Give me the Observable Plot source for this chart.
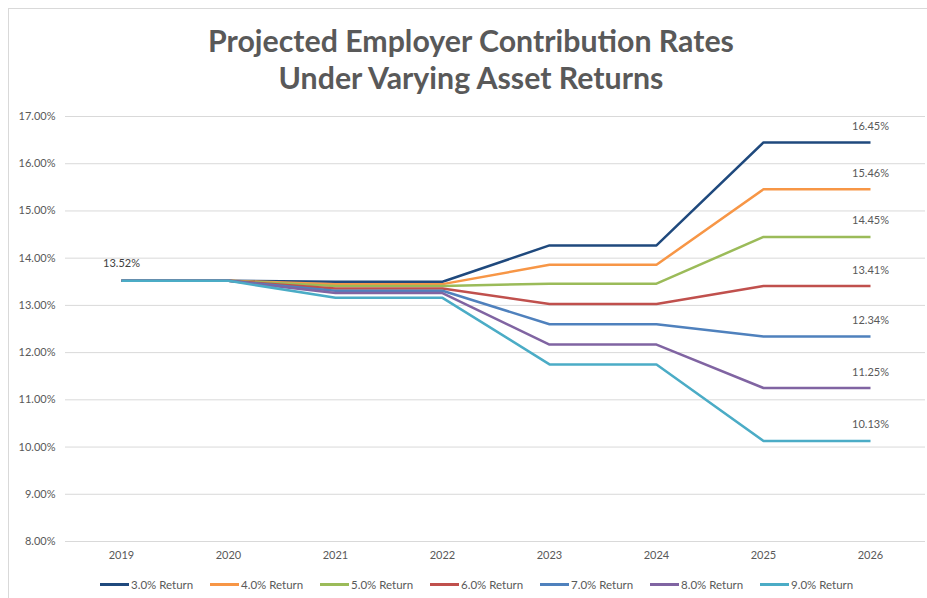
<!DOCTYPE html>
<html>
<head>
<meta charset="utf-8">
<script src="https://cdn.jsdelivr.net/npm/d3@7"></script>
<script src="https://cdn.jsdelivr.net/npm/@observablehq/plot@0.6"></script>
<style>
  html, body { margin: 0; padding: 0; background: #fff; }
  body { width: 927px; height: 598px; position: relative; overflow: hidden; font-family: Lato, "Open Sans", sans-serif; }
  #frame { position: absolute; left: 8px; top: 8px; right: -2px; bottom: -2px; border-left: 1px solid #d9d9d9; border-top: 1px solid #d9d9d9; }
  #title { position: absolute; top: 22px; left: 0; width: 942px; text-align: center; color: #595959; font-weight: 700; font-size: 30.3px; line-height: 37px; }
  #chart { position: absolute; top: 100px; left: 0; }
  #legend { position: absolute; top: 576px; left: 100px; display: flex; color: #595959; font-size: 11.5px; }
  .item { width: 110px; display: flex; align-items: center; height: 16px; }
  .sw { width: 29px; height: 3px; margin-right: 2px; }
</style>
</head>
<body>
<div id="frame"></div>
<div id="title">Projected Employer Contribution Rates<br>Under Varying Asset Returns</div>
<div id="chart"></div>
<div id="legend"></div>
<script>
const years = ["2019", "2020", "2021", "2022", "2023", "2024", "2025", "2026"];
const seriesNames = ["3.0% Return", "4.0% Return", "5.0% Return", "6.0% Return", "7.0% Return", "8.0% Return", "9.0% Return"];
const r3 = [13.52, 13.52, 13.50, 13.50, 14.27, 14.27, 16.45, 16.45];
const r4 = [13.52, 13.52, 13.45, 13.45, 13.86, 13.86, 15.46, 15.46];
const r5 = [13.52, 13.52, 13.41, 13.41, 13.46, 13.46, 14.45, 14.45];
const r6 = [13.52, 13.52, 13.36, 13.36, 13.03, 13.03, 13.41, 13.41];
const r7 = [13.52, 13.52, 13.31, 13.31, 12.60, 12.60, 12.34, 12.34];
const r8 = [13.52, 13.52, 13.26, 13.26, 12.17, 12.17, 11.25, 11.25];
const r9 = [13.52, 13.52, 13.16, 13.16, 11.75, 11.75, 10.13, 10.13];
const yTicks = [8, 9, 10, 11, 12, 13, 14, 15, 16, 17];
const colors = ["#1f497d", "#f79646", "#9bbb59", "#c0504d", "#4f81bd", "#8064a2", "#4bacc6"];

const allSeries = [r3, r4, r5, r6, r7, r8, r9];
const data = allSeries.flatMap((vals, i) => vals.map((v, j) => ({series: seriesNames[i], year: years[j], value: v})));
const endLabels = data.filter(d => d.year === years[years.length - 1]);
const startLabel = [data.find(d => d.year === years[0])];
const fmt = v => v.toFixed(2) + "%";

const chart = Plot.plot({
  width: 927,
  height: 470,
  marginTop: 16,
  marginBottom: 29,
  marginLeft: 65,
  marginRight: 2,
  style: {fontFamily: "Lato, 'Open Sans', sans-serif", fontSize: "11px", color: "#595959", background: "transparent"},
  x: {type: "point", domain: years, padding: 0.5, label: null},
  y: {domain: [8, 17], label: null},
  color: {domain: seriesNames, range: colors},
  marks: [
    Plot.ruleY(yTicks, {stroke: "#d9d9d9", strokeWidth: 1}),
    Plot.axisY({ticks: yTicks, tickFormat: fmt, tickSize: 0, tickPadding: 10, fill: "#595959", fontSize: 11, label: null}),
    Plot.axisX({tickSize: 0, tickPadding: 10, fill: "#595959", fontSize: 11, label: null}),
    Plot.line(data, {x: "year", y: "value", z: "series", stroke: "series", strokeWidth: 2.5, strokeLinejoin: "miter", strokeLinecap: "butt"}),
    Plot.text(endLabels, {x: "year", y: "value", text: d => fmt(d.value), dy: -16, fill: "#595959", fontSize: 11}),
    Plot.text(startLabel, {x: "year", y: "value", text: d => fmt(d.value), dy: -17, fill: "#404040", fontSize: 11})
  ]
});
document.getElementById("chart").appendChild(chart);

const legend = document.getElementById("legend");
seriesNames.forEach((name, i) => {
  const item = document.createElement("div");
  item.className = "item";
  const sw = document.createElement("div");
  sw.className = "sw";
  sw.style.background = colors[i];
  const label = document.createElement("span");
  label.textContent = name;
  item.appendChild(sw);
  item.appendChild(label);
  legend.appendChild(item);
});
</script>
</body>
</html>
